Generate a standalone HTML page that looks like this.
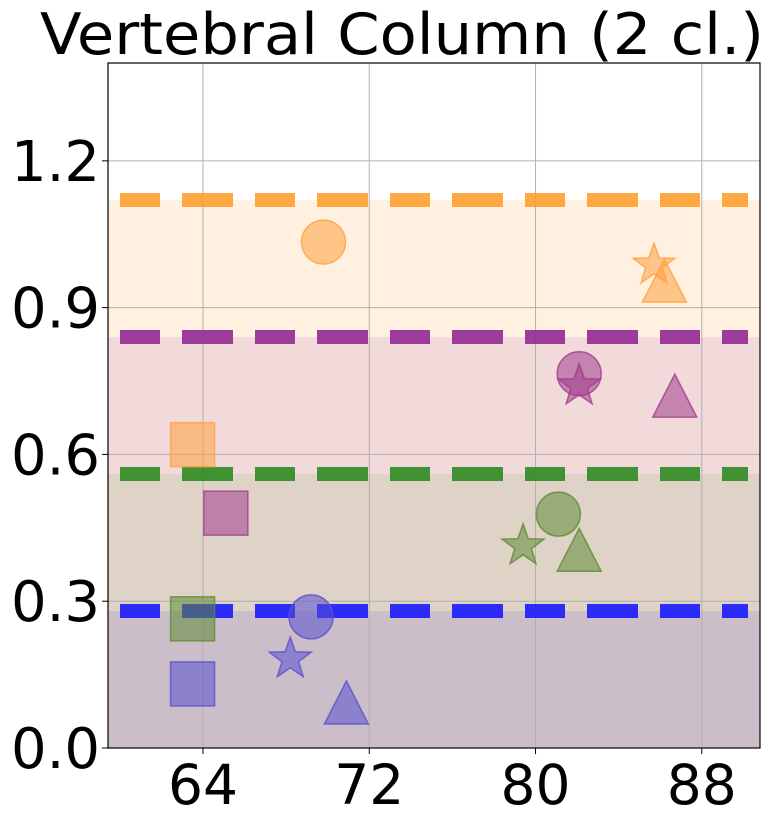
<!DOCTYPE html>
<html><head><meta charset="utf-8"><style>
body{margin:0;background:#fff;font-family:"DejaVu Sans","Liberation Sans",sans-serif}
</style></head><body>
<svg id="c" width="775" height="822" xmlns="http://www.w3.org/2000/svg" font-family="DejaVu Sans, Liberation Sans, sans-serif"></svg>
<script>
const xTicks=[64,72,80,88];
const yTicks=[0.0,0.3,0.6,0.9,1.2];
const yTickLabels=["0.0","0.3","0.6","0.9","1.2"];
const thresholds=[0.28,0.56,0.84,1.12];
const seriesNames=["blue","green","purple","orange"];
const circleX=[69.2,81.1,82.1,69.8];
const circleY=[0.268,0.478,0.765,1.034];
const starX=[68.2,79.4,82.1,85.7];
const starY=[0.182,0.413,0.74,0.987];
const triX=[70.9,82.1,86.7,86.2];
const triY=[0.088,0.40,0.715,0.95];
const sqX=[63.5,63.5,65.1,63.5];
const sqY=[0.131,0.264,0.48,0.62];
const lineColors=["#1a1aff","#2e8b22","#932a94","#ffa030"];
const markColors=["#5a4fcf","#5f8a35","#a03c8c","#ffa040"];
const bandColors=["#cbbec8","#dfd3c7","#f2dada","#fff0e0"];
const L=108,R=760,T=63,B=748,xmin=59.43,xmax=90.8,ymin=0,ymax=1.40;
const sx=v=>L+(v-xmin)/(xmax-xmin)*(R-L);
const sy=v=>B-(v-ymin)/(ymax-ymin)*(B-T);
const svg=document.getElementById('c');
const NS="http://www.w3.org/2000/svg";
function mk(t,a){const e=document.createElementNS(NS,t);for(const k in a)e.setAttribute(k,a[k]);svg.appendChild(e);return e;}
let prev=0;
thresholds.forEach((t,i)=>{const e=mk('rect',{x:L,y:sy(t),width:R-L,height:sy(prev)-sy(t),fill:bandColors[i]});

prev=t;});
xTicks.forEach(v=>{const e=mk('line',{x1:sx(v),x2:sx(v),y1:T,y2:B,stroke:'#b0b0b0','stroke-width':1});

});
yTicks.forEach(v=>{const e=mk('line',{x1:L,x2:R,y1:sy(v),y2:sy(v),stroke:'#b0b0b0','stroke-width':1});

});
thresholds.forEach((t,i)=>{const e=mk('line',{x1:L+12,x2:R-12,y1:sy(t),y2:sy(t),stroke:lineColors[i],'stroke-width':14,'stroke-dasharray':'40 22 51 22','stroke-dashoffset':0,opacity:0.9});

});
function star(cx,cy,r){let p=[];for(let k=0;k<10;k++){const a=-Math.PI/2+k*Math.PI/5;const rr=k%2?r*0.4:r;p.push((cx+rr*Math.cos(a)).toFixed(1)+','+(cy+rr*Math.sin(a)).toFixed(1));}return p.join(' ');}
for(let i=0;i<4;i++){
 const c=markColors[i];const st={fill:c,'fill-opacity':0.55,stroke:c,'stroke-opacity':0.8,'stroke-width':1.5};
 let e=mk('circle',Object.assign({cx:sx(circleX[i]),cy:sy(circleY[i]),r:22},st));
 
 
 e=mk('rect',Object.assign({x:sx(sqX[i])-22,y:sy(sqY[i])-22,width:44,height:44},st));
 
 
 const tx=sx(triX[i]),ty=sy(triY[i]);
 e=mk('polygon',Object.assign({points:`${tx},${ty-24} ${tx-22},${ty+19} ${tx+22},${ty+19}`},st));
 
 
 e=mk('polygon',Object.assign({points:star(sx(starX[i]),sy(starY[i]),22)},st));
 
 
}
let f=mk('rect',{x:L,y:T,width:R-L,height:B-T,fill:'none',stroke:'#000','stroke-width':1.2});


xTicks.forEach(v=>{mk('line',{x1:sx(v),x2:sx(v),y1:B,y2:B+6,stroke:'#000'});
const t=mk('text',{x:sx(v),y:B+56,'font-size':55,'text-anchor':'middle',fill:'#000'});t.textContent=v;

});
yTicks.forEach((v,i)=>{mk('line',{x1:L-6,x2:L,y1:sy(v),y2:sy(v),stroke:'#000'});
const t=mk('text',{x:L-8,y:sy(v)+20,'font-size':56,'text-anchor':'end',fill:'#000'});t.textContent=yTickLabels[i];

});
const ti=mk('text',{x:40,y:54,'font-size':57,textLength:724,lengthAdjust:'spacingAndGlyphs',fill:'#000'});ti.textContent="Vertebral Column (2 cl.)";


</script>
</body></html>
